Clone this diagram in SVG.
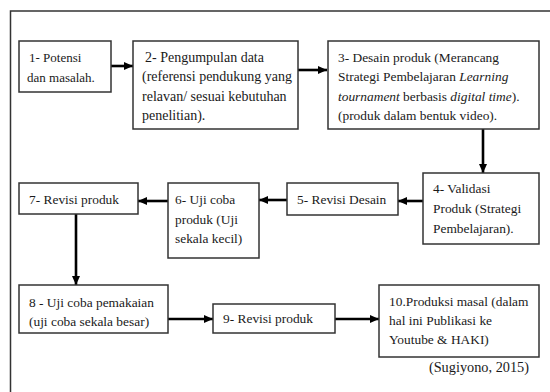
<svg xmlns="http://www.w3.org/2000/svg" width="550" height="392" viewBox="0 0 550 392">
<style>
.box{fill:#fff;stroke:#333;stroke-width:1.5}
.t{font-family:'Liberation Serif','Times New Roman',serif;font-size:13.4px;fill:#1a1a1a}
.i{font-style:italic}
.c{stroke:#000;stroke-width:2.6;fill:none}
</style>
<defs>
<marker id="ah" markerUnits="userSpaceOnUse" markerWidth="10" markerHeight="10" refX="9" refY="4" orient="auto">
<path d="M0,0 L9,4 L0,8 Z" fill="#000"/>
</marker>
</defs>
<rect width="550" height="392" fill="#fff"/>
<g id="frame"><path d="M10.5,392 V11 H550" fill="none" stroke="#333" stroke-width="1.5"/></g>
<g id="connectors">
<line class="c" x1="111" y1="66" x2="133" y2="66" marker-end="url(#ah)"/>
<line class="c" x1="298" y1="70" x2="327" y2="70" marker-end="url(#ah)"/>
<line class="c" x1="483" y1="129" x2="483" y2="173" marker-end="url(#ah)"/>
<line class="c" x1="423" y1="201" x2="398" y2="201" marker-end="url(#ah)"/>
<line class="c" x1="287" y1="200" x2="259" y2="200" marker-end="url(#ah)"/>
<line class="c" x1="168" y1="201" x2="138" y2="201" marker-end="url(#ah)"/>
<line class="c" x1="76" y1="214" x2="76" y2="285" marker-end="url(#ah)"/>
<line class="c" x1="168" y1="319" x2="213" y2="319" marker-end="url(#ah)"/>
<line class="c" x1="335" y1="319" x2="379" y2="319" marker-end="url(#ah)"/>
</g>
<g id="n1"><rect class="box" x="19" y="41" width="92" height="51"/>
<text class="t" x="29" y="62" style="font-size:13px">1- Potensi</text>
<text class="t" x="27" y="81.5" style="font-size:13px">dan masalah.</text></g>
<g id="n2" style="font-size:14px"><rect class="box" x="133" y="41" width="165" height="88"/>
<text class="t" x="145" y="61.5" style="font-size:14px">2- Pengumpulan data</text>
<text class="t" x="142" y="81" style="font-size:14px">(referensi pendukung yang</text>
<text class="t" x="142" y="100.5" style="font-size:14px">relavan/ sesuai kebutuhan</text>
<text class="t" x="142" y="120" style="font-size:14px">penelitian).</text></g>
<g id="n3"><rect class="box" x="328" y="41" width="211" height="88"/>
<text class="t" x="338" y="61.5">3- Desain produk (Merancang</text>
<text class="t" x="338" y="81">Strategi Pembelajaran <tspan class="i">Learning</tspan></text>
<text class="t" x="338" y="100.5"><tspan class="i">tournament</tspan> berbasis <tspan class="i">digital time</tspan>).</text>
<text class="t" x="338" y="120">(produk dalam bentuk video).</text></g>
<g id="n4"><rect class="box" x="423" y="173" width="116" height="71"/>
<text class="t" x="433" y="193">4- Validasi</text>
<text class="t" x="433" y="213">Produk (Strategi</text>
<text class="t" x="433" y="233">Pembelajaran).</text></g>
<g id="n5"><rect class="box" x="287" y="183" width="111" height="32"/>
<text class="t" x="297" y="204">5- Revisi Desain</text></g>
<g id="n6"><rect class="box" x="168" y="183" width="91" height="75"/>
<text class="t" x="175" y="204">6- Uji coba</text>
<text class="t" x="175" y="224">produk (Uji</text>
<text class="t" x="175" y="243">sekala kecil)</text></g>
<g id="n7"><rect class="box" x="19" y="183" width="119" height="31"/>
<text class="t" x="29" y="204">7- Revisi produk</text></g>
<g id="n8"><rect class="box" x="19" y="285" width="149" height="48"/>
<text class="t" x="29" y="307">8 - Uji coba pemakaian</text>
<text class="t" x="29" y="326">(uji coba sekala besar)</text></g>
<g id="n9"><rect class="box" x="213" y="304" width="122" height="29"/>
<text class="t" x="223" y="323">9- Revisi produk</text></g>
<g id="n10"><rect class="box" x="379" y="285" width="160" height="72"/>
<text class="t" x="389" y="306">10.Produksi masal (dalam</text>
<text class="t" x="389" y="325">hal ini Publikasi ke</text>
<text class="t" x="389" y="344">Youtube &amp; HAKI)</text></g>
<text class="t" x="529" y="372" text-anchor="end" style="font-size:14.3px">(Sugiyono, 2015)</text>
</svg>
